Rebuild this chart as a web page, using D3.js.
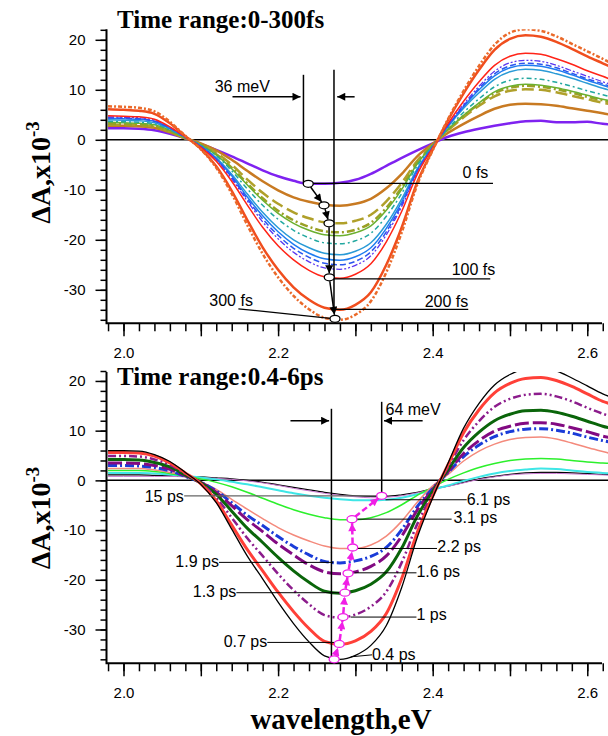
<!DOCTYPE html>
<html>
<head>
<meta charset="utf-8">
<script src="https://cdnjs.cloudflare.com/ajax/libs/d3/7.8.5/d3.min.js"></script>
<style>
body { margin: 0; background: #fff; }
svg text { font-family: "Liberation Sans", Arial, sans-serif; }
.serif { font-family: "Liberation Serif", "Times New Roman", serif; font-weight: bold; }
</style>
</head>
<body>
<script>

// photon energy grid, eV
var energy = [1.98, 2.00, 2.02, 2.04, 2.06, 2.08, 2.10, 2.12, 2.14, 2.16, 2.18, 2.20, 2.22, 2.24, 2.26, 2.28, 2.30,
              2.32, 2.34, 2.36, 2.38, 2.40, 2.42, 2.44, 2.46, 2.48, 2.50, 2.52, 2.54, 2.56, 2.58, 2.60, 2.62, 2.63];

// top panel, 0-300 fs (dA x 1e-3)
var top0  = [2.3, 2.3, 2.2, 1.9, 1.2, 0.3, -0.8, -2.0, -3.3, -4.7, -6.1, -7.3, -8.2, -8.8, -8.8, -8.6, -8.0, -6.8, -5.2, -3.6, -2.1, -0.7, 0.6, 1.5, 2.2, 2.8, 3.3, 3.7, 3.8, 3.5, 3.5, 3.6, 3.2, 3.1];
var top1  = [2.8, 2.8, 2.7, 2.4, 1.5, 0.3, -0.7, -2.1, -4.0, -6.2, -8.3, -10.1, -11.5, -12.4, -13.0, -13.2, -12.8, -11.8, -9.7, -6.8, -3.3, -0.8, 1.4, 3.2, 4.8, 6.2, 7.0, 7.2, 7.1, 6.8, 6.3, 5.8, 5.3, 5.0];
var top2  = [3.0, 3.0, 2.9, 2.6, 1.6, 0.3, -0.9, -2.6, -5.0, -7.9, -10.6, -12.8, -14.5, -15.7, -16.5, -16.7, -16.2, -15.0, -12.3, -8.6, -4.2, -1.0, 1.9, 4.5, 6.8, 8.7, 9.8, 10.1, 10.0, 9.5, 8.8, 8.1, 7.4, 7.1];
var top3  = [3.2, 3.1, 3.0, 2.7, 1.7, 0.4, -1.0, -2.9, -5.6, -8.7, -11.7, -14.2, -16.1, -17.4, -18.3, -18.5, -18.0, -16.6, -13.6, -9.5, -4.6, -1.1, 2.1, 4.8, 7.2, 9.3, 10.4, 10.8, 10.6, 10.1, 9.4, 8.6, 7.9, 7.5];
var top4  = [3.5, 3.4, 3.3, 3.0, 1.9, 0.4, -1.0, -3.0, -5.8, -9.0, -12.1, -14.7, -16.7, -18.1, -19.0, -19.2, -18.6, -17.2, -14.1, -9.9, -4.8, -1.1, 2.1, 4.9, 7.4, 9.6, 10.7, 11.1, 10.9, 10.4, 9.7, 8.9, 8.1, 7.8];
var top5  = [3.7, 3.6, 3.5, 3.2, 2.0, 0.4, -1.1, -3.2, -6.2, -9.8, -13.1, -15.9, -18.1, -19.6, -20.6, -20.8, -20.2, -18.7, -15.3, -10.7, -5.2, -1.2, 2.3, 5.5, 8.2, 10.6, 11.9, 12.3, 12.1, 11.5, 10.7, 9.8, 9.0, 8.6];
var top6  = [4.0, 3.9, 3.8, 3.4, 2.2, 0.5, -1.2, -3.6, -6.9, -10.8, -14.5, -17.6, -20.0, -21.6, -22.7, -23.0, -22.3, -20.6, -16.9, -11.8, -5.8, -1.4, 2.7, 6.3, 9.4, 12.1, 13.6, 14.1, 13.9, 13.2, 12.3, 11.3, 10.3, 9.9];
var top7  = [4.3, 4.2, 4.1, 3.7, 2.3, 0.5, -1.3, -3.8, -7.2, -11.4, -15.2, -18.4, -20.9, -22.7, -23.8, -24.1, -23.4, -21.6, -17.7, -12.4, -6.0, -1.4, 2.8, 6.6, 10.0, 12.8, 14.4, 14.9, 14.7, 14.0, 13.0, 11.9, 10.9, 10.4];
var top8  = [4.4, 4.3, 4.2, 3.7, 2.4, 0.5, -1.3, -3.9, -7.5, -11.8, -15.8, -19.1, -21.7, -23.5, -24.7, -25.0, -24.3, -22.4, -18.4, -12.9, -6.3, -1.5, 2.9, 6.8, 10.3, 13.2, 14.8, 15.3, 15.1, 14.4, 13.3, 12.2, 11.2, 10.7];
var top9  = [4.6, 4.5, 4.4, 3.9, 2.5, 0.5, -1.4, -4.0, -7.8, -12.2, -16.4, -19.8, -22.5, -24.4, -25.6, -25.9, -25.1, -23.2, -19.0, -13.3, -6.5, -1.5, 3.0, 7.1, 10.7, 13.7, 15.4, 15.9, 15.7, 14.9, 13.8, 12.7, 11.6, 11.1];
var top10 = [4.8, 4.7, 4.6, 4.1, 2.6, 0.6, -1.5, -4.3, -8.3, -13.0, -17.5, -21.2, -24.0, -26.1, -27.4, -27.7, -26.9, -24.8, -20.4, -14.3, -6.9, -1.6, 3.3, 7.7, 11.6, 14.9, 16.7, 17.3, 17.1, 16.2, 15.1, 13.8, 12.7, 12.1];
var top11 = [6.1, 6.0, 5.8, 5.2, 3.3, 0.7, -1.8, -5.3, -10.2, -16.0, -21.5, -26.0, -29.5, -32.0, -33.6, -34.0, -33.0, -30.5, -25.0, -17.5, -8.5, -2.0, 4.0, 9.3, 14.0, 18.0, 20.2, 20.9, 20.6, 19.6, 18.2, 16.7, 15.3, 14.6];
var top12 = [6.7, 6.6, 6.4, 5.7, 3.6, 0.8, -1.9, -5.6, -10.8, -17.0, -22.8, -27.5, -31.2, -33.9, -35.6, -36.0, -35.0, -32.3, -26.5, -18.5, -9.0, -2.1, 4.2, 9.8, 14.8, 19.0, 21.4, 22.1, 21.8, 20.7, 19.2, 17.7, 16.2, 15.4];

// bottom panel, 0.4-15 ps
var bot04 = [6.0, 6.0, 5.9, 5.2, 3.8, 1.6, -0.8, -4.5, -9.8, -15.2, -19.8, -24.5, -28.8, -32.5, -35.3, -36.0, -35.2, -33.2, -29.2, -21.5, -11.5, -3.5, 3.5, 10.5, 15.5, 19.2, 21.3, 22.4, 22.6, 22.0, 20.6, 19.0, 17.4, 16.8];
var bot07 = [5.6, 5.6, 5.5, 4.9, 3.5, 1.5, -0.7, -4.1, -9.0, -13.9, -18.2, -22.5, -26.4, -29.8, -32.4, -33.0, -32.3, -30.4, -26.8, -19.7, -10.5, -3.2, 3.2, 9.6, 14.2, 17.6, 19.5, 20.5, 20.7, 20.1, 18.9, 17.4, 15.9, 15.4];
var bot10 = [4.9, 4.9, 4.8, 4.2, 3.1, 1.3, -0.6, -3.5, -7.5, -11.6, -15.2, -18.8, -22.1, -24.9, -27.1, -27.6, -27.0, -25.4, -22.4, -16.5, -8.8, -2.7, 2.7, 8.1, 11.9, 14.8, 16.4, 17.2, 17.4, 16.9, 15.9, 14.6, 13.4, 12.9];
var bot13 = [4.2, 4.2, 4.1, 3.6, 2.7, 1.1, -0.5, -2.8, -6.2, -9.6, -12.5, -15.5, -18.2, -20.5, -22.3, -22.7, -22.2, -20.9, -18.4, -13.6, -7.2, -2.2, 2.2, 6.6, 9.7, 12.0, 13.3, 14.0, 14.1, 13.7, 12.9, 11.9, 10.9, 10.5];
var bot16 = [3.5, 3.5, 3.4, 3.0, 2.2, 0.9, -0.4, -2.4, -5.1, -7.9, -10.3, -12.8, -15.0, -17.0, -18.4, -18.8, -18.4, -17.3, -15.2, -11.2, -6.0, -1.8, 1.8, 5.4, 8.0, 9.9, 10.9, 11.5, 11.6, 11.3, 10.6, 9.8, 8.9, 8.6];
var bot19 = [3.0, 3.0, 2.9, 2.6, 1.9, 0.8, -0.4, -2.1, -4.5, -7.0, -9.1, -11.3, -13.3, -15.0, -16.3, -16.6, -16.2, -15.3, -13.5, -9.9, -5.3, -1.6, 1.6, 4.8, 7.1, 8.8, 9.8, 10.3, 10.4, 10.1, 9.5, 8.7, 8.0, 7.7];
var bot22 = [2.4, 2.4, 2.4, 2.1, 1.6, 0.9, -0.3, -1.8, -3.8, -5.8, -7.7, -9.5, -11.0, -12.2, -13.2, -13.7, -13.7, -13.0, -11.2, -8.2, -4.4, -1.1, 1.2, 3.9, 5.9, 7.3, 8.2, 8.6, 8.7, 8.3, 7.5, 6.6, 5.8, 5.4];
var bot31 = [2.0, 2.0, 2.0, 1.8, 1.4, 0.8, 0.3, -0.4, -1.3, -2.4, -3.6, -4.8, -5.9, -6.8, -7.5, -7.9, -7.9, -7.5, -6.5, -4.9, -3.0, -1.4, 0.2, 1.5, 2.6, 3.4, 4.0, 4.3, 4.4, 4.3, 4.0, 3.7, 3.5, 3.4];
var bot61 = [1.5, 1.5, 1.5, 1.4, 1.2, 0.9, 0.6, 0.2, -0.3, -0.8, -1.4, -2.0, -2.6, -3.1, -3.5, -3.8, -4.0, -4.0, -3.9, -3.5, -2.8, -1.9, -1.0, -0.1, 0.7, 1.4, 1.9, 2.2, 2.4, 2.3, 2.0, 1.7, 1.5, 1.4];
var bot10b = [0.8, 0.8, 0.8, 0.8, 0.8, 0.7, 0.6, 0.4, 0.2, -0.1, -0.5, -1.0, -1.6, -2.1, -2.6, -3.0, -3.3, -3.5, -3.4, -3.1, -2.5, -1.8, -1.2, -0.5, 0.2, 0.7, 1.1, 1.3, 1.4, 1.4, 1.3, 1.2, 1.1, 1.0];
var bot15 = [1.1, 1.1, 1.1, 1.0, 0.9, 0.8, 0.7, 0.5, 0.3, 0.0, -0.4, -0.9, -1.4, -1.9, -2.4, -2.8, -3.1, -3.2, -3.2, -2.9, -2.4, -1.7, -1.1, -0.4, 0.3, 0.8, 1.2, 1.5, 1.6, 1.6, 1.5, 1.4, 1.2, 1.2];

var xTickLabels = [2.0, 2.2, 2.4, 2.6];
var yTickLabels = [-30, -20, -10, 0, 10, 20];

// styles kept apart from the numbers
var topSeries = [top0, top1, top2, top3, top4, top5, top6, top7, top8, top9, top10, top11, top12];
var topColors = ["#7f22f0", "#c87a22", "#b0a02a", "#9aa024", "#6cb030", "#22a8a0", "#2a9ad6", "#1e7cf0", "#2a56ee", "#5a36f0", "#ff2418", "#f04e1e", "#ea6a2a"];
var topWidths = [2.5, 2.5, 2.5, 2.5, 1.5, 1.5, 1.5, 1.5, 1.5, 1.3, 1.5, 2.5, 2.5];
var topDashes = [null, null, "12,5", "8,3,2,3", null, "5,3,2,3", null, null, "6,3", "6,2,2,2,2,2", null, null, "4,2,2,2"];

var botSeries = [bot15, bot10b, bot61, bot31, bot22, bot19, bot16, bot13, bot10, bot07, bot04];
var botColors = ["#000000", "#c878d0", "#3ee6e6", "#2cf02c", "#f48a7c", "#1a3cd8", "#820a82", "#0a650a", "#8c1c8c", "#ff4038", "#000000"];
var botWidths = [1.3, 1, 2, 1.5, 1.5, 3, 3, 3, 2.5, 3, 1.3];
var botDashes = [null, null, null, null, null, "9,3,2,3", "14,4", null, "8,3,2,3,2,3", null, null];

var w = 608;
var h = 736;

var svg = d3.select("body")
        .append("svg")
        .attr("width", w)
        .attr("height", h);

var defs = svg.append("defs");
function arrowMarker(id, color) {
    defs.append("marker")
        .attr("id", id)
        .attr("viewBox", "0 0 10 10")
        .attr("refX", 10).attr("refY", 5)
        .attr("markerWidth", 11).attr("markerHeight", 8)
        .attr("markerUnits", "userSpaceOnUse")
        .attr("orient", "auto")
        .append("path")
        .attr("d", "M0,0L10,5L0,10Z")
        .attr("fill", color);
}
arrowMarker("arrBlack", "#000");
arrowMarker("arrMag", "#f01ee6");

var x = d3.scaleLinear().domain([1.978, 2.6268]).range([106.5, 608]);
var xAxisEnd = 602;

function panel(top, bottom, ymin, ymax, id) {
    var y = d3.scaleLinear().domain([ymin, ymax]).range([bottom, top]);
    var g = svg.append("g");

    defs.append("clipPath").attr("id", id)
        .append("rect")
        .attr("x", x.range()[0]).attr("y", top)
        .attr("width", w - x.range()[0]).attr("height", bottom - top);

    // zero line
    g.append("line")
        .attr("x1", x.range()[0]).attr("x2", w)
        .attr("y1", y(0)).attr("y2", y(0))
        .attr("stroke", "#000").attr("stroke-width", 1.5);

    // y axis, minor then major
    g.append("g")
        .attr("transform", "translate(" + x.range()[0] + ",0)")
        .call(d3.axisLeft(y).tickValues(d3.range(-36, 23, 2)).tickSize(6).tickFormat(""))
        .call(function(a) { a.select(".domain").remove(); });
    g.append("g")
        .attr("transform", "translate(" + x.range()[0] + ",0)")
        .call(d3.axisLeft(y).tickValues(yTickLabels).tickSize(11).tickPadding(10).tickFormat(function(d) { return d; }))
        .call(function(a) {
            a.select(".domain").remove();
            a.selectAll("text").attr("font-size", 15).attr("font-family", "Liberation Sans, Arial, sans-serif");
        });

    // x axis
    g.append("g")
        .attr("transform", "translate(0," + bottom + ")")
        .call(d3.axisBottom(x).tickValues(d3.range(99, 132).map(function(i) { return i / 50; })).tickSize(8).tickFormat(""))
        .call(function(a) { a.select(".domain").remove(); });
    g.append("g")
        .attr("transform", "translate(0," + bottom + ")")
        .call(d3.axisBottom(x).tickValues(d3.range(20, 27).map(function(i) { return i / 10; })).tickSize(13).tickPadding(11)
            .tickFormat(function(d) { return xTickLabels.indexOf(d) >= 0 ? d.toFixed(1) : ""; }))
        .call(function(a) {
            a.select(".domain").remove();
            a.selectAll("text").attr("font-size", 15).attr("font-family", "Liberation Sans, Arial, sans-serif");
        });

    g.selectAll(".tick line").attr("stroke-width", 1.5);

    g.append("path")
        .attr("d", "M" + x.range()[0] + "," + top + "V" + bottom + "H" + xAxisEnd)
        .attr("fill", "none").attr("stroke", "#000").attr("stroke-width", 2);

    var plot = g.append("g").attr("clip-path", "url(#" + id + ")");
    return { y: y, g: g, plot: plot };
}

function drawCurves(p, series, colors, widths, dashes) {
    var line = d3.line()
        .x(function(d, i) { return x(energy[i]); })
        .y(function(d) { return p.y(d); })
        .curve(d3.curveMonotoneX);
    p.plot.selectAll("path.curve")
        .data(series)
        .enter()
        .append("path")
        .attr("class", "curve")
        .attr("d", line)
        .attr("fill", "none")
        .attr("stroke", function(d, i) { return colors[i]; })
        .attr("stroke-width", function(d, i) { return widths[i]; })
        .attr("stroke-dasharray", function(d, i) { return dashes[i]; })
        .attr("stroke-linejoin", "round");
}

function seg(p, x1, y1, x2, y2, color, width, marker) {
    var l = p.g.append("line")
        .attr("x1", x(x1)).attr("y1", p.y(y1))
        .attr("x2", x(x2)).attr("y2", p.y(y2))
        .attr("stroke", color).attr("stroke-width", width);
    if (marker) l.attr("marker-end", "url(#" + marker + ")");
    return l;
}

function label(p, t, tx, ty, anchor) {
    p.g.append("text")
        .attr("x", x(tx)).attr("y", p.y(ty))
        .attr("text-anchor", anchor)
        .attr("font-size", 16)
        .text(t);
}

// arrows joining the minima, shortened to the ellipse edges
function chain(p, pts, color, dash, marker, width) {
    for (var i = 0; i < pts.length - 1; i++) {
        var ax = x(pts[i][0]), ay = p.y(pts[i][1]);
        var bx = x(pts[i + 1][0]), by = p.y(pts[i + 1][1]);
        var len = Math.hypot(bx - ax, by - ay);
        var ux = (bx - ax) / len, uy = (by - ay) / len;
        p.g.append("line")
            .attr("x1", ax + ux * 4).attr("y1", ay + uy * 4)
            .attr("x2", bx - ux * 4).attr("y2", by - uy * 4)
            .attr("stroke", color).attr("stroke-width", width)
            .attr("stroke-dasharray", dash)
            .attr("marker-end", "url(#" + marker + ")");
    }
    p.g.selectAll("ellipse.c" + color.slice(1))
        .data(pts)
        .enter()
        .append("ellipse")
        .attr("cx", function(d) { return x(d[0]); })
        .attr("cy", function(d) { return p.y(d[1]); })
        .attr("rx", 5).attr("ry", 3.5)
        .attr("fill", "#fff")
        .attr("stroke", color).attr("stroke-width", 1.3);
}

// ---------- top panel ----------
var pTop = panel(29.3, 323.3, -36.7, 22.1, "clipTop");
drawCurves(pTop, topSeries, topColors, topWidths, topDashes);

seg(pTop, 2.2328, 13.0, 2.2328, -8.6, "#000", 1.5);
seg(pTop, 2.2723, 14.0, 2.2723, -33.9, "#000", 1.5);
seg(pTop, 2.141, 8.6, 2.229, 8.6, "#000", 1.5, "arrBlack");
seg(pTop, 2.299, 8.6, 2.2765, 8.6, "#000", 1.5, "arrBlack");
label(pTop, "36 meV", 2.118, 9.6, "start");

seg(pTop, 2.239, -8.7, 2.478, -8.7, "#000", 1.3);
label(pTop, "0 fs", 2.472, -7.7, "end");
seg(pTop, 2.2665, -27.8, 2.4745, -27.8, "#000", 1.3);
label(pTop, "100 fs", 2.481, -27.0, "end");
seg(pTop, 2.2723, -33.9, 2.446, -33.9, "#000", 1.3);
label(pTop, "200 fs", 2.446, -33.4, "end");
seg(pTop, 2.1486, -33.8, 2.2736, -35.8, "#000", 1.3);
label(pTop, "300 fs", 2.111, -33.2, "start");

chain(pTop, [[2.239, -8.8], [2.2594, -13.1], [2.2659, -16.7], [2.2662, -27.5], [2.2736, -35.8]], "#000000", null, "arrBlack", 1.5);

svg.append("text")
    .attr("class", "serif")
    .attr("x", 117).attr("y", 28)
    .attr("font-size", 25)
    .text("Time range:0-300fs");

// ---------- bottom panel ----------
var pBot = panel(372, 663.3, -36.8, 21.8, "clipBot");
drawCurves(pBot, botSeries, botColors, botWidths, botDashes);

seg(pBot, 2.269, 14.4, 2.269, -36.8, "#000", 1.5);
seg(pBot, 2.334, 15.8, 2.334, -3.1, "#000", 1.5);
seg(pBot, 2.216, 12.0, 2.266, 12.0, "#000", 1.5, "arrBlack");
seg(pBot, 2.387, 12.0, 2.337, 12.0, "#000", 1.5, "arrBlack");
label(pBot, "64 meV", 2.339, 13.2, "start");

seg(pBot, 2.0785, -3.1, 2.342, -3.1, "#666", 1.2);
label(pBot, "15 ps", 2.078, -4.3, "end");
seg(pBot, 2.339, -3.9, 2.444, -3.9, "#000", 1);
label(pBot, "6.1 ps", 2.444, -4.9, "start");
seg(pBot, 2.3016, -7.8, 2.4245, -7.8, "#000", 1);
label(pBot, "3.1 ps", 2.427, -8.6, "start");
seg(pBot, 2.300, -13.7, 2.4056, -13.7, "#000", 1);
label(pBot, "2.2 ps", 2.406, -14.5, "start");
seg(pBot, 2.1235, -16.5, 2.2714, -16.5, "#000", 1);
label(pBot, "1.9 ps", 2.1235, -17.4, "end");
seg(pBot, 2.299, -18.6, 2.379, -18.6, "#000", 1);
label(pBot, "1.6 ps", 2.379, -19.5, "start");
seg(pBot, 2.146, -22.6, 2.2865, -22.6, "#000", 1);
label(pBot, "1.3 ps", 2.146, -23.5, "end");
seg(pBot, 2.294, -27.5, 2.379, -27.5, "#000", 1);
label(pBot, "1 ps", 2.379, -28.1, "start");
seg(pBot, 2.186, -32.6, 2.279, -32.6, "#000", 1);
label(pBot, "0.7 ps", 2.186, -33.6, "end");
seg(pBot, 2.294, -35.5, 2.3215, -35.1, "#000", 1);
label(pBot, "0.4 ps", 2.3215, -36.1, "start");

chain(pBot, [[2.2725, -36.0], [2.279, -32.9], [2.284, -27.5], [2.2865, -22.6], [2.2905, -18.7], [2.2965, -13.5], [2.2956, -7.8], [2.334, -3.1]],
      "#f01ee6", "6,3", "arrMag", 2.5);

svg.append("text")
    .attr("class", "serif")
    .attr("x", 117).attr("y", 385)
    .attr("font-size", 25)
    .text("Time range:0.4-6ps");

// ---------- axis titles ----------
function yTitle(cy) {
    var t = svg.append("text")
        .attr("class", "serif")
        .attr("transform", "translate(50," + cy + ") rotate(-90)")
        .attr("text-anchor", "middle")
        .attr("font-size", 28);
    t.append("tspan").text("\u0394A,x10");
    t.append("tspan").attr("font-size", 19).attr("dy", -11).text("-3");
}
yTitle(172.5);
yTitle(518);

svg.append("text")
    .attr("class", "serif")
    .attr("x", 341).attr("y", 729)
    .attr("text-anchor", "middle")
    .attr("font-size", 29)
    .text("wavelength,eV");

</script>
</body>
</html>
